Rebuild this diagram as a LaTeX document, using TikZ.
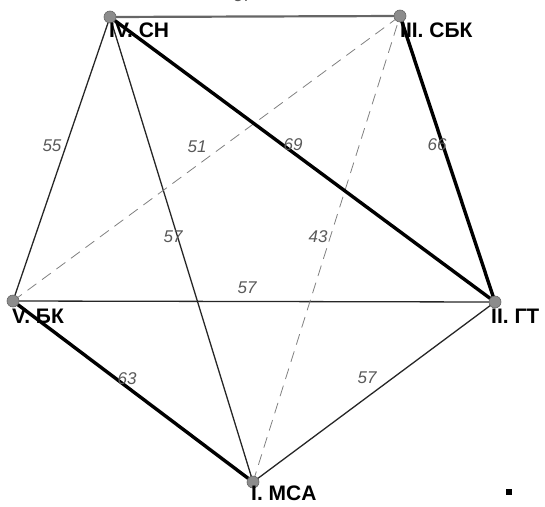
\documentclass[tikz,border=0pt]{standalone}
\usepackage{fontspec}
\setmainfont{Liberation Sans}
\pgfdeclarelayer{edgelayer}
\pgfsetlayers{edgelayer,main}
\begin{document}
\begin{tikzpicture}[x=1pt,y=-1pt,
  vert/.style={circle,fill=gray!90,draw=black!60,line width=0.6pt,minimum size=12pt,inner sep=0pt},
  vlabel/.style={anchor=base west,inner sep=0pt,font=\bfseries\fontsize{21}{21}\selectfont},
  wt/.style={inner sep=0pt,font=\itshape\fontsize{17}{17}\selectfont,text=black!65},
  thinedge/.style={draw=black!85,line width=1.3pt},
  heavyedge/.style={draw=black,line width=3.4pt},
  dshedge/.style={draw=black!50,line width=0.8pt,dash pattern=on 11pt off 7pt},
  topedge/.style={draw=black!60,line width=2.2pt}]
\useasboundingbox (0,0) rectangle (545,506);
% vertices
\node[vert] (n4) at (110,17) {};
\node[vert] (n3) at (400,16) {};
\node[vert] (n5) at (13,301) {};
\node[vert] (n2) at (495,302) {};
\node[vert] (n1) at (253,482) {};
% edges
\begin{pgfonlayer}{edgelayer}
\draw[topedge] (n4.center) -- (n3.center);
\draw[thinedge] (n4.center) -- (n5.center);
\draw[thinedge] (n4.center) -- (n1.center);
\draw[thinedge] (n5.center) -- (n2.center);
\draw[thinedge] (n1.center) -- (n2.center);
\draw[dshedge] (n5.center) -- (n3.center);
\draw[dshedge] (n1.center) -- (n3.center);
\draw[heavyedge] (n4.center) -- (n2.center);
\draw[heavyedge] (n3.center) -- (n2.center);
\draw[heavyedge] (n5.center) -- (n1.center);
\end{pgfonlayer}
% names
\node[vlabel] (l4) at (109,37) {IV. CH};
\node[vlabel] (l3) at (400,37) {III. СБК};
\node[vlabel] (l5) at (12,323) {V. БК};
\node[vlabel] (l2) at (491,323) {II. ГТ};
\node[vlabel] (l1) at (251,500) {I. MCA};
% weights
\node[wt] (w43) at (243,-4) {57};
\node[wt] (w45) at (52,146) {55};
\node[wt] (w53) at (197,147) {51};
\node[wt] (w42) at (293,145) {69};
\node[wt] (w32) at (437,145) {66};
\node[wt] (w41) at (173,237) {57};
\node[wt] (w13) at (318,237) {43};
\node[wt] (w52) at (247,288) {57};
\node[wt] (w51) at (127,379) {63};
\node[wt] (w12) at (367,378) {57};
% marker
\node[fill=black,minimum size=6pt,inner sep=0pt] (sq) at (509,492) {};
\end{tikzpicture}
\end{document}
